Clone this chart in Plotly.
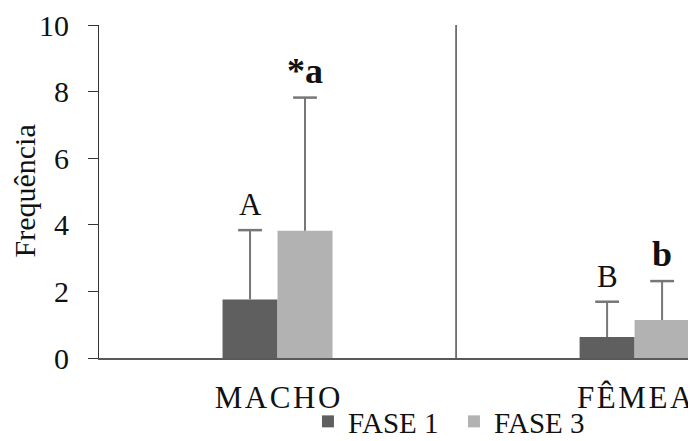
import plotly.graph_objects as go

categories = ["MACHO", "FÊMEA"]
tick_labels = ["M\u200aA\u200aC\u200aH\u200aO", "F\u200aÊ\u200aM\u200aE\u200aA"]
series_names = ["FASE 1", "FASE 3"]
fase1_values = [1.76, 0.63]
fase3_values = [3.82, 1.14]
fase1_errors = [2.08, 1.06]
fase3_errors = [4.0, 1.17]
fase1_letters = ["A", "B"]
fase3_letters = ["<b>*a</b>", "<b>b</b>"]
y_ticks = [0, 2, 4, 6, 8, 10]
y_title = "Frequência"

x_pos = list(range(len(categories)))
bar_w = 0.154
serif = "Liberation Serif"
err_color = "#777777"
c1, c3 = "#5f5f5f", "#b2b2b2"

fig = go.Figure()
fig.add_trace(go.Bar(x=x_pos, y=fase1_values, name=series_names[0],
                     width=bar_w, offset=-bar_w,
                     marker=dict(color=c1, line=dict(width=0))))
fig.add_trace(go.Bar(x=x_pos, y=fase3_values, name=series_names[1],
                     width=bar_w, offset=0,
                     marker=dict(color=c3, line=dict(width=0))))

# upward-only error bars (stems + caps) built from the data
for vals, errs, sign in ((fase1_values, fase1_errors, -1), (fase3_values, fase3_errors, 1)):
    xs, ys = [], []
    for i in x_pos:
        xc = i + sign * bar_w / 2
        xs += [xc, xc, None]
        ys += [vals[i], vals[i] + errs[i], None]
    fig.add_trace(go.Scatter(x=xs, y=ys, mode="lines", showlegend=False,
                             hoverinfo="skip", line=dict(color=err_color, width=2)))
    fig.add_trace(go.Scatter(x=[i + sign * bar_w / 2 for i in x_pos],
                             y=[vals[i] + errs[i] for i in x_pos],
                             mode="markers", showlegend=False, hoverinfo="skip",
                             marker=dict(symbol="line-ew", size=17,
                                         line=dict(color=err_color, width=2.5))))

for i in x_pos:
    fig.add_annotation(x=i - bar_w / 2, y=fase1_values[i] + fase1_errors[i],
                       text=fase1_letters[i], showarrow=False,
                       yanchor="bottom", yshift=6,
                       font=dict(family=serif, size=31, color="#111111"))
    fig.add_annotation(x=i + bar_w / 2, y=fase3_values[i] + fase3_errors[i],
                       text=fase3_letters[i], showarrow=False,
                       yanchor="bottom", yshift=5,
                       font=dict(family=serif, size=36, color="#111111"))

# y-axis title
fig.add_annotation(xref="paper", yref="paper", x=-0.1256, y=0.5,
                   xanchor="center", yanchor="middle", textangle=-90,
                   text=y_title, showarrow=False,
                   font=dict(family=serif, size=30, color="#111111"))

# divider between categories
fig.add_shape(type="line", x0=0.5, x1=0.5, y0=0, y1=10,
              xref="x", yref="y", line=dict(color="#222222", width=1.2))

fig.update_layout(
    width=688, height=433,
    margin=dict(l=91, r=0, t=17, b=83),
    paper_bgcolor="white", plot_bgcolor="white",
    showlegend=True,
    legend=dict(orientation="h", xref="container", yref="container",
                x=0.436, xanchor="left", y=0.045, yanchor="middle",
                font=dict(family=serif, size=29, color="#111111"),
                itemwidth=30, entrywidth=101, entrywidthmode="pixels",
                bgcolor="rgba(0,0,0,0)"),
    font=dict(family=serif, color="#111111"),
)
fig.update_xaxes(
    range=[-0.5, 1.172], tickvals=x_pos, ticktext=tick_labels,
    showline=True, linecolor="#595959", linewidth=1.5,
    ticks="", showgrid=False, zeroline=False, automargin=False,
    ticklabelstandoff=11,
    tickfont=dict(family=serif, size=31, color="#111111"),
)
fig.update_yaxes(
    range=[0, 10], tickvals=y_ticks,
    showline=True, linecolor="#333333", linewidth=1.2,
    ticks="outside", ticklen=10, tickcolor="#333333", tickwidth=1.2,
    showgrid=False, zeroline=False, automargin=False,
    ticklabelstandoff=13,
    tickfont=dict(family=serif, size=30, color="#111111"),
)

fig.write_html("out.html")
